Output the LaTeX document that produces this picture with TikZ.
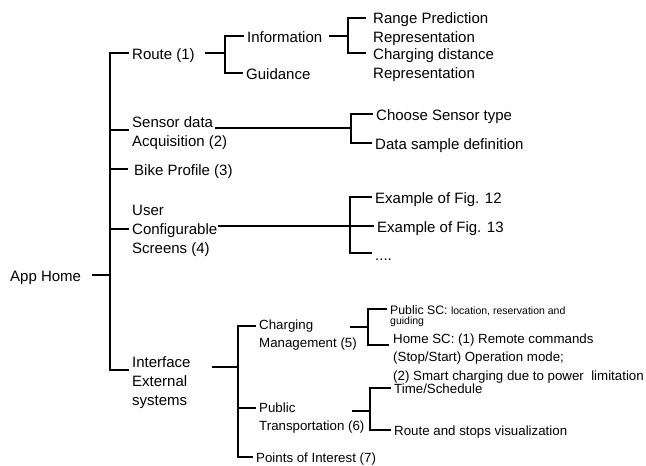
\documentclass[tikz,border=0pt]{standalone}
\usepackage{fontspec}
\setmainfont{Liberation Sans}
\newcommand{\myfA}{\fontsize{15}{19}\selectfont}
\newcommand{\myfB}{\fontsize{13.3}{18.4}\selectfont}
\newcommand{\myfC}{\fontsize{12.3}{14}\selectfont}
\newcommand{\myfD}{\fontsize{10.5}{12}\selectfont}
\begin{document}
\begin{tikzpicture}[x=1pt,y=-1pt,
  lbl/.style={anchor=west, inner xsep=3pt, inner ysep=1pt, align=left, font=\myfA},
  lbs/.style={lbl, font=\myfB},
  one/.style={anchor=west, inner xsep=3pt, inner ysep=1pt, font=\myfA, text height=15pt, text depth=3pt},
  ones/.style={anchor=west, inner xsep=3pt, inner ysep=1pt, font=\myfB, text height=13.6pt, text depth=2.8pt},
  br/.style={line width=2pt}]
\fill[white] (0,0) rectangle (646,466);
\useasboundingbox (0,0) rectangle (646,466);

% nodes
\node[one] (home) at (7,275) {App Home};
\node[one] (route) at (129,53) {Route (1)};
\node[lbl] (sensor) at (129,133.5) {Sensor data\\Acquisition (2)};
\node[one,inner xsep=6pt] (bike) at (128,169) {Bike Profile (3)};
\node[lbl] (user) at (129,231) {User\\Configurable\\Screens (4)};
\node[lbl] (iface) at (129,383) {Interface\\External\\systems};
\node[one] (info) at (244,36) {Information};
\node[one] (guid) at (243,73) {Guidance};
\node[lbl] (rp) at (370,29.5) {Range Prediction\\Representation};
\node[lbl] (cd) at (370,65.5) {Charging distance\\Representation};
\node[one] (cst) at (373,114) {Choose Sensor type};
\node[one] (dsd) at (372,143) {Data sample definition};
\node[one] (e12) at (372,197) {Example of Fig. 12};
\node[one] (e13) at (374,226) {Example of Fig. 13};
\node[one] (dots) at (372,254) {....};
\node[lbs] (cm) at (256,335) {Charging\\Management (5)};
\node[lbs] (pt) at (256,418) {Public\\Transportation (6)};
\node[ones] (poi) at (253,457) {Points of Interest (7)};
\node[lbl,anchor=north west,font=\myfC] (psc) at (387,304)
  {Public SC: {\myfD location, reservation and}\\[-3.5pt]{\myfD guiding}};
\node[lbs,inner xsep=4pt] (hsc) at (389,358.5)
  {Home SC: (1) Remote commands\\(Stop/Start) Operation mode;\\(2) Smart charging due to power\ \ limitation};
\node[ones] (ts) at (391,388) {Time/Schedule};
\node[ones] (rsv) at (391,430) {Route and stops visualization};

% level 1
\coordinate (tb) at (110,370);
\coordinate (sb) at (110,130);
\coordinate (ub) at (110,229);
\draw[br] (route.west) -| (tb) -- (tb -| iface.west);
\draw[br] (sensor.west |- sb) -- (sb);
\draw[br] (bike.west) -- (bike.west -| tb);
\draw[br] (user.west |- ub) -- (ub);
\draw[br,shorten <=8pt] (home.east) -- (home.east -| tb);

% route
\coordinate (rj) at (225,53);
\draw[br,shorten <=7pt] (route.east) -- (rj);
\draw[br] (info.west) -| (rj) |- (guid.west);
\coordinate (ij) at (348,36);
\draw[br,shorten <=4pt] (info.east) -- (ij);
\coordinate (rpb) at (366,18);
\coordinate (cdb) at (366,53);
\draw[br] (rpb) -| (ij) |- (cdb);

% sensor
\coordinate (s0) at (215,128);
\coordinate (sj) at (351,128);
\draw[br] (s0) -- (sj);
\draw[br] (cst.west) -| (sj) |- (dsd.west);

% user screens
\coordinate (u0) at (218,226);
\coordinate (ujb) at (350,253);
\draw[br] (u0) -- (e13.west);
\draw[br] (e12.west) -| (ujb) -- (ujb -| dots.west);

% interface
\coordinate (fj) at (238,367);
\draw[br,shorten <=18pt] (iface.east |- fj) -- (fj);
\coordinate (fjt) at (238,326);
\draw[br] (cm.west |- fjt) -- (fjt) |- (poi.west);
\coordinate (fjp) at (238,408);
\draw[br] (fjp) -- (pt.west |- fjp);

% charging management
\coordinate (c0) at (350,327);
\coordinate (cjt) at (368,309);
\coordinate (cjb) at (368,345);
\draw[br] (c0) -- (c0 -| cjt);
\draw[br] (psc.west |- cjt) -- (cjt) -- (cjb) -- (hsc.west |- cjb);

% public transportation
\coordinate (p0) at (352,411);
\coordinate (pj) at (370,411);
\draw[br] (p0) -- (pj);
\draw[br] (ts.west) -| (pj) |- (rsv.west);
\end{tikzpicture}
\end{document}
